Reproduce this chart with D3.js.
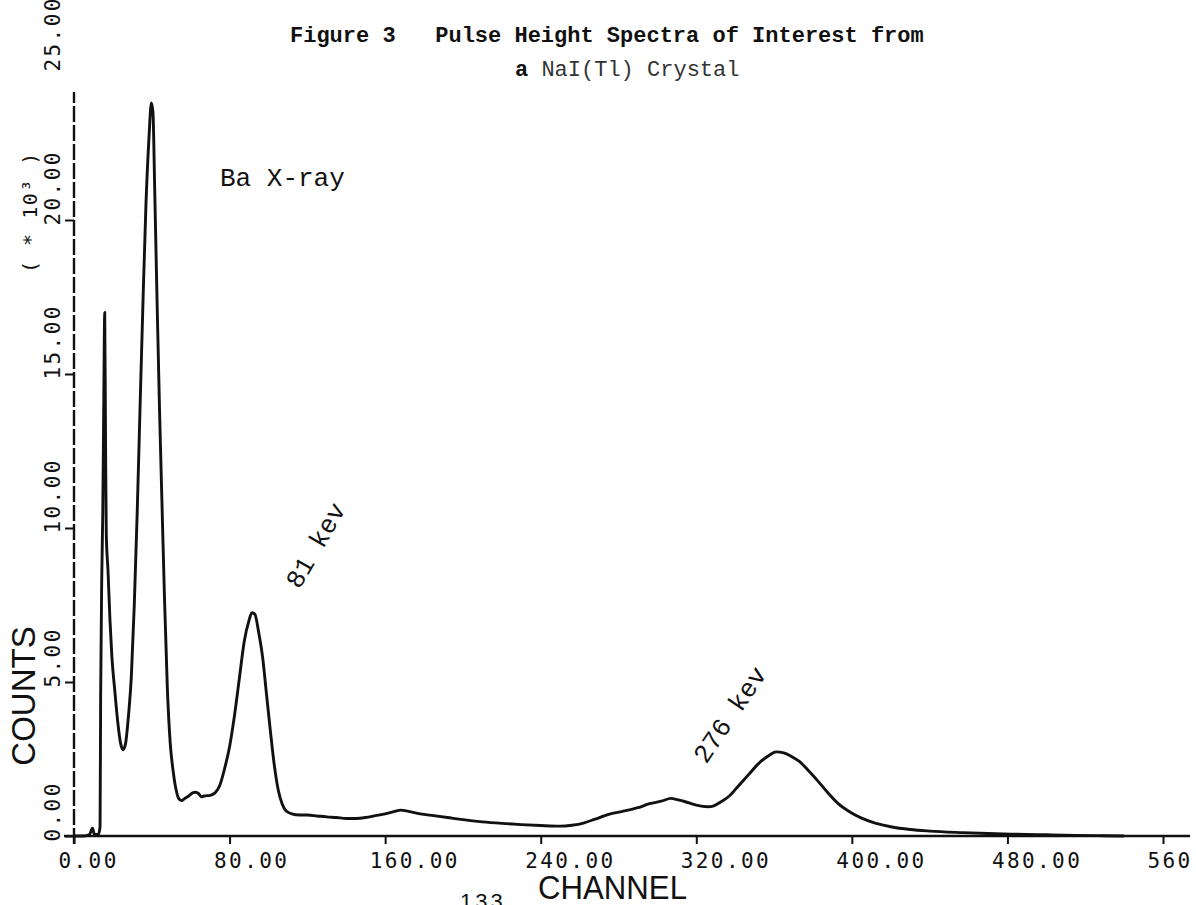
<!DOCTYPE html>
<html>
<head>
<meta charset="utf-8">
<script src="https://cdn.jsdelivr.net/npm/d3@7"></script>
<style>
  html, body { margin: 0; padding: 0; background: #fff; }
  svg { display: block; }
</style>
</head>
<body>
<svg id="chart" width="1196" height="905"></svg>
<script>
// Pulse height spectrum, NaI(Tl) crystal: counts (x 10^3) per channel
const channels = [
  0, 5, 8, 9.5, 10.5, 12.5, 13.4, 13.7, 14.3, 14.8, 15.3, 15.8, 16.2, 16.6, 17.5, 18.5, 19.5,
  21, 22.5, 24, 25.2, 26.5, 28, 29.5, 31, 32.5, 34, 35.5, 37, 38.5, 39.8, 40.6, 41.5, 42.7,
  44, 45.2, 46.5, 48, 49.5, 51, 52.5, 54, 55.5, 57, 59, 61, 62.5, 64, 65.5, 67, 70, 72.5,
  75, 77.5, 80, 82.5, 85, 87.5, 90, 91.5, 93, 95, 97, 99, 101, 103, 105, 107, 109, 112,
  116, 120, 125, 130, 135, 140, 145, 150, 155, 160, 165, 168, 172, 178, 185, 192, 200, 210,
  220, 230, 240, 250, 256, 262, 268, 275, 282, 290, 296, 302, 307, 310, 314, 320, 326, 329,
  333, 337, 342, 347, 352, 357, 361, 365, 369, 373, 378, 383, 388, 393, 399, 405, 412, 420,
  430, 440, 457, 470, 483, 500, 515, 530, 540
];
const counts = [
  0.0, 0.0, 0.05, 0.25, 0.05, 0.05, 0.3, 4.5, 8.5, 10.5, 14.0, 17.0, 13.0, 9.8, 8.6, 7.0, 5.8,
  4.7, 3.7, 3.0, 2.8, 3.0, 3.9, 5.2, 7.5, 10.5, 14.0, 17.4, 20.5, 22.6, 23.8, 23.5, 21.0, 17.4,
  13.8, 10.9, 7.8, 4.8, 3.0, 2.1, 1.5, 1.2, 1.15, 1.22, 1.3, 1.4, 1.42, 1.38, 1.27, 1.3, 1.32, 1.4,
  1.65, 2.2, 2.9, 3.9, 5.1, 6.3, 7.0, 7.25, 7.2, 6.6, 5.8, 4.6, 3.4, 2.3, 1.5, 1.05, 0.82, 0.72,
  0.68, 0.68, 0.65, 0.62, 0.6, 0.57, 0.57, 0.6, 0.66, 0.72, 0.8, 0.84, 0.8, 0.72, 0.66, 0.6, 0.53, 0.46,
  0.41, 0.37, 0.34, 0.32, 0.35, 0.42, 0.55, 0.7, 0.8, 0.92, 1.05, 1.13, 1.22, 1.18, 1.12, 1.0, 0.95, 0.98,
  1.12, 1.3, 1.65, 2.0, 2.35, 2.6, 2.73, 2.7, 2.58, 2.42, 2.1, 1.75, 1.38, 1.05, 0.78, 0.58, 0.42, 0.3,
  0.21, 0.16, 0.11, 0.08, 0.06, 0.04, 0.02, 0.01, 0.0
];

const xTickValues = [0, 80, 160, 240, 320, 400, 480, 560];
const xTickLabels = ["0.00", "80.00", "160.00", "240.00", "320.00", "400.00", "480.00", "560"];
const yTickValues = [0, 5, 10, 15, 20, 25];
const yTickLabels = ["0.00", "5.00", "10.00", "15.00", "20.00", "25.00"];

const titleLine1 = "Figure 3   Pulse Height Spectra of Interest from";
const titleLine2Lead = "a";
const titleLine2Rest = " NaI(Tl) Crystal";
const sourceNote = "Ba X-ray";
const peakNotes = ["81 kev", "276 kev"];
const xTitle = "CHANNEL";
const yTitle = "COUNTS";
const yMultiplier = "( * 10\u00B3 )";
const pageNumber = "133";

const svg = d3.select("#chart");
svg.append("rect").attr("width", 1196).attr("height", 905).attr("fill", "#fff");

const x = d3.scaleLinear().domain([0, 560]).range([74, 1163]);
const y = d3.scaleLinear().domain([0, 25]).range([836, 66]);

const ink = "#111";
const tickFont = "'DejaVu Sans Mono', monospace";
const typeFont = "'Liberation Mono', 'Courier New', monospace";
const plotterFont = "'Liberation Sans', Arial, sans-serif";

// x axis
const xAxis = d3.axisBottom(x)
  .tickValues(xTickValues)
  .tickSize(8)
  .tickFormat((d, i) => xTickLabels[i]);
const gx = svg.append("g").attr("transform", `translate(0,${y(0)})`).call(xAxis);
gx.select(".domain").remove();
gx.selectAll(".tick line").attr("stroke", ink).attr("stroke-width", 2);
gx.selectAll(".tick text")
  .attr("fill", ink)
  .attr("font-family", tickFont)
  .attr("font-size", 21)
  .attr("letter-spacing", 2.4)
  .attr("text-anchor", "start")
  .attr("x", -16)
  .attr("y", 32)
  .attr("dy", null);
svg.append("line")
  .attr("x1", 64).attr("x2", 1190)
  .attr("y1", y(0)).attr("y2", y(0))
  .attr("stroke", ink).attr("stroke-width", 2.4);

// y axis (the drawn spine stops short of the top tick value)
const yAxisTop = 92;
const yAxis = d3.axisLeft(y)
  .tickValues(yTickValues)
  .tickSize(9)
  .tickFormat((d, i) => yTickLabels[i]);
const gy = svg.append("g").attr("transform", `translate(${x(0)},0)`).call(yAxis);
gy.select(".domain").remove();
gy.selectAll(".tick line")
  .attr("stroke", ink).attr("stroke-width", 2)
  .attr("opacity", d => y(d) >= yAxisTop ? 1 : 0);
gy.selectAll(".tick text")
  .attr("fill", ink)
  .attr("font-family", tickFont)
  .attr("font-size", 21)
  .attr("letter-spacing", 2.4)
  .attr("text-anchor", "start")
  .attr("x", 0).attr("y", 0).attr("dy", null)
  .attr("transform", "translate(-14,5) rotate(-90)");
svg.append("line")
  .attr("x1", x(0)).attr("x2", x(0))
  .attr("y1", y(0) + 8).attr("y2", yAxisTop)
  .attr("stroke", ink).attr("stroke-width", 2.4)
  .attr("stroke-dasharray", "16 3");

// spectrum trace
const spectrum = channels.map((c, i) => ({ c, v: counts[i] }));
const line = d3.line()
  .x(d => x(d.c))
  .y(d => y(d.v))
  .curve(d3.curveMonotoneX);
svg.append("path")
  .datum(spectrum)
  .attr("d", line)
  .attr("fill", "none")
  .attr("stroke", ink)
  .attr("stroke-width", 2.9)
  .attr("stroke-linejoin", "round");

// title
svg.append("text")
  .attr("x", 290).attr("y", 42)
  .attr("font-family", typeFont).attr("font-weight", "bold")
  .attr("font-size", 22).attr("fill", ink)
  .style("white-space", "pre")
  .text(titleLine1);
const t2 = svg.append("text")
  .attr("x", 515).attr("y", 76)
  .attr("font-family", typeFont)
  .attr("font-size", 22).attr("fill", ink)
  .style("white-space", "pre");
t2.append("tspan").attr("font-weight", "bold").text(titleLine2Lead);
t2.append("tspan").attr("fill", "#333").text(titleLine2Rest);

// annotations
svg.append("text")
  .attr("x", 220).attr("y", 186)
  .attr("font-family", typeFont).attr("font-size", 26).attr("fill", ink)
  .text(sourceNote);

const notePlacement = [
  { cx: x(124), cy: y(9.45), angle: -60 },
  { cx: x(337), cy: y(3.95), angle: -56 }
];
peakNotes.forEach((txt, i) => {
  const p = notePlacement[i];
  svg.append("text")
    .attr("transform", `translate(${p.cx},${p.cy}) rotate(${p.angle})`)
    .attr("text-anchor", "middle")
    .attr("dy", "0.35em")
    .attr("font-family", typeFont).attr("font-size", 26).attr("fill", ink)
    .text(txt);
});

// axis titles
svg.append("text")
  .attr("transform", "translate(35,696) rotate(-90)")
  .attr("text-anchor", "middle")
  .attr("font-family", plotterFont)
  .attr("font-size", 33).attr("fill", ink)
  .text(yTitle);
svg.append("text")
  .attr("x", 538).attr("y", 899)
  .attr("textLength", 149).attr("lengthAdjust", "spacingAndGlyphs")
  .attr("font-family", plotterFont)
  .attr("font-size", 33).attr("fill", ink)
  .text(xTitle);
svg.append("text")
  .attr("transform", "translate(37,273) rotate(-90)")
  .attr("text-anchor", "start")
  .attr("font-family", tickFont).attr("font-size", 20)
  .attr("letter-spacing", 1.5).attr("fill", ink)
  .style("white-space", "pre")
  .text(yMultiplier);
svg.append("text")
  .attr("x", 460).attr("y", 909)
  .attr("font-family", plotterFont)
  .attr("font-size", 22).attr("letter-spacing", 3).attr("fill", ink)
  .text(pageNumber);
</script>
</body>
</html>
